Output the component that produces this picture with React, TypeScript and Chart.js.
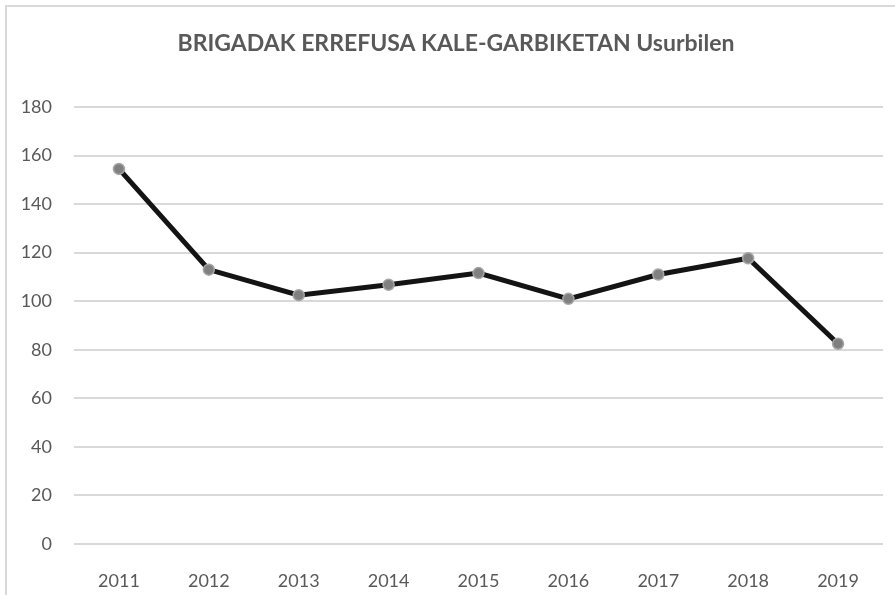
import React, { useEffect, useRef } from "react";
import { Chart, registerables } from "chart.js";

Chart.register(...registerables);

const TITLE = "BRIGADAK ERREFUSA KALE-GARBIKETAN Usurbilen";
const years = ["2011", "2012", "2013", "2014", "2015", "2016", "2017", "2018", "2019"];
const values = [154.5, 113, 102.5, 106.8, 111.6, 101, 111, 117.7, 82.5];
const yMin = 0;
const yMax = 180;
const yStep = 20;

const FONT = "Lato, 'Open Sans', sans-serif";

const frame = {
  id: "frame",
  afterLayout(chart: any) {
    const t = chart.titleBlock;
    if (t) {
      t.left = 29;
      t.right = 883;
    }
  },
  beforeDraw(chart: any) {
    const ctx = chart.ctx;
    ctx.save();
    ctx.fillStyle = "#ffffff";
    ctx.fillRect(0, 0, chart.width, chart.height);
    ctx.strokeStyle = "#d9d9d9";
    ctx.lineWidth = 2;
    ctx.beginPath();
    ctx.moveTo(6, chart.height);
    ctx.lineTo(6, 6);
    ctx.lineTo(chart.width, 6);
    ctx.stroke();
    ctx.restore();
  },
};

export default function App() {
  const ref = useRef<HTMLCanvasElement | null>(null);
  useEffect(() => {
    document.body.style.margin = "0";
    const chart = new Chart(ref.current as HTMLCanvasElement, {
      type: "line",
      data: {
        labels: years,
        datasets: [
          {
            data: values,
            borderColor: "#141414",
            borderWidth: 5,
            pointRadius: 5.5,
            pointBackgroundColor: "#808080",
            pointBorderColor: "#a6a6a6",
            pointBorderWidth: 1.5,
            tension: 0,
          },
        ],
      },
      options: {
        animation: false,
        responsive: false,
        maintainAspectRatio: false,
        layout: { padding: { left: 0, right: 12, top: 0, bottom: 0 } },
        plugins: {
          legend: { display: false },
          tooltip: { enabled: false },
          title: {
            display: true,
            text: TITLE,
            color: "#595959",
            font: { family: FONT, size: 23, weight: "bold" },
            padding: { top: 30, bottom: 49.4 },
          },
        },
        scales: {
          x: {
            offset: true,
            grid: { display: false },
            border: { display: false },
            ticks: { color: "#595959", font: { family: FONT, size: 18 }, padding: 18 },
            afterFit(scale: any) {
              scale.height = 51;
            },
          },
          y: {
            min: yMin,
            max: yMax,
            grid: { color: "#d9d9d9", lineWidth: 2, drawTicks: false },
            border: { display: false },
            ticks: { stepSize: yStep, color: "#595959", font: { family: FONT, size: 18 }, padding: 22 },
            afterFit(scale: any) {
              scale.width = 74;
            },
          },
        },
      },
      plugins: [frame],
    });
    return () => chart.destroy();
  }, []);
  return (
    <div style={{ position: "absolute", left: 0, top: 0, width: 895, height: 595 }}>
      <canvas ref={ref} width={895} height={595} style={{ width: 895, height: 595 }} />
    </div>
  );
}
